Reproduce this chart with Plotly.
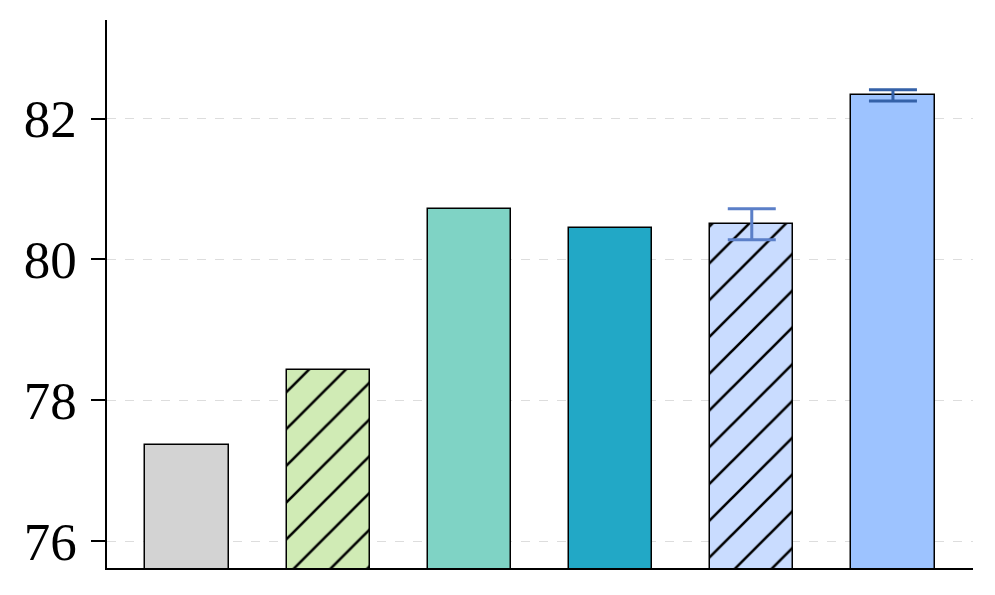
import plotly.graph_objects as go

# datos
categorias = ["A", "B", "C", "D", "E", "F"]
valores = [77.36, 78.43, 80.71, 80.45, 80.50, 82.33]
errores = [None, None, None, None, 0.22, 0.08]
colores = ["#d3d3d3", "#d0ebb5", "#7fd3c5", "#22a8c6", "#c9dcff", "#9dc3ff"]
patrones = ["", "/", "", "", "/", ""]
color_error = ["#5b7fc8", "#5b7fc8", "#5b7fc8", "#5b7fc8", "#5b7fc8", "#3461a8"]
ticks_y = [76, 78, 80, 82]
rango_x = [-0.567, 5.567]
rango_y = [75.62, 83.4]

fig = go.Figure()
for i, cat in enumerate(categorias):
    err = None
    if errores[i] is not None:
        err = dict(type="data", array=[errores[i]], color=color_error[i], thickness=3, width=24, visible=True)
    fig.add_trace(go.Bar(
        x=[i], y=[valores[i]], width=0.59,
        marker=dict(color=colores[i], line=dict(color="black", width=1.5),
                    pattern=dict(shape=patrones[i], fgcolor="black", bgcolor=colores[i], fgopacity=1,
                                 size=26, solidity=0.1, fillmode="overlay")),
        error_y=err, showlegend=False, name=cat))

# marcas de tick como marcadores fuera del área (7 px a la izquierda del eje)
px_por_unidad = 866 / (rango_x[1] - rango_x[0])
x_tick = rango_x[0] - 7 / px_por_unidad
fig.add_trace(go.Scatter(
    x=[x_tick] * len(ticks_y), y=ticks_y, mode="markers", cliponaxis=False,
    marker=dict(symbol="line-ew", size=14, line=dict(color="black", width=2)),
    showlegend=False, hoverinfo="skip"))

# la página añade 8 px de margen al body, se compensa aquí
fig.update_layout(
    template="simple_white",
    width=995, height=595,
    margin=dict(l=99, r=30, t=12, b=35),
    plot_bgcolor="white", paper_bgcolor="white",
    barmode="overlay", bargap=0,
    font=dict(family="Liberation Serif", color="black", size=53),
)
fig.update_xaxes(range=rango_x, showticklabels=False, ticks="", showgrid=False,
                 showline=True, linecolor="black", linewidth=1.5, zeroline=False, automargin=False)
fig.update_yaxes(range=rango_y, tickmode="array", tickvals=ticks_y,
                 ticks="outside", ticklen=14, tickwidth=2, tickcolor="black",
                 showline=True, linecolor="black", linewidth=1.5,
                 showgrid=True, gridcolor="#dddddd", griddash="dash", gridwidth=1, zeroline=False,
                 tickfont=dict(size=53), ticklabelstandoff=4, automargin=False)

fig.write_html("out.html")
